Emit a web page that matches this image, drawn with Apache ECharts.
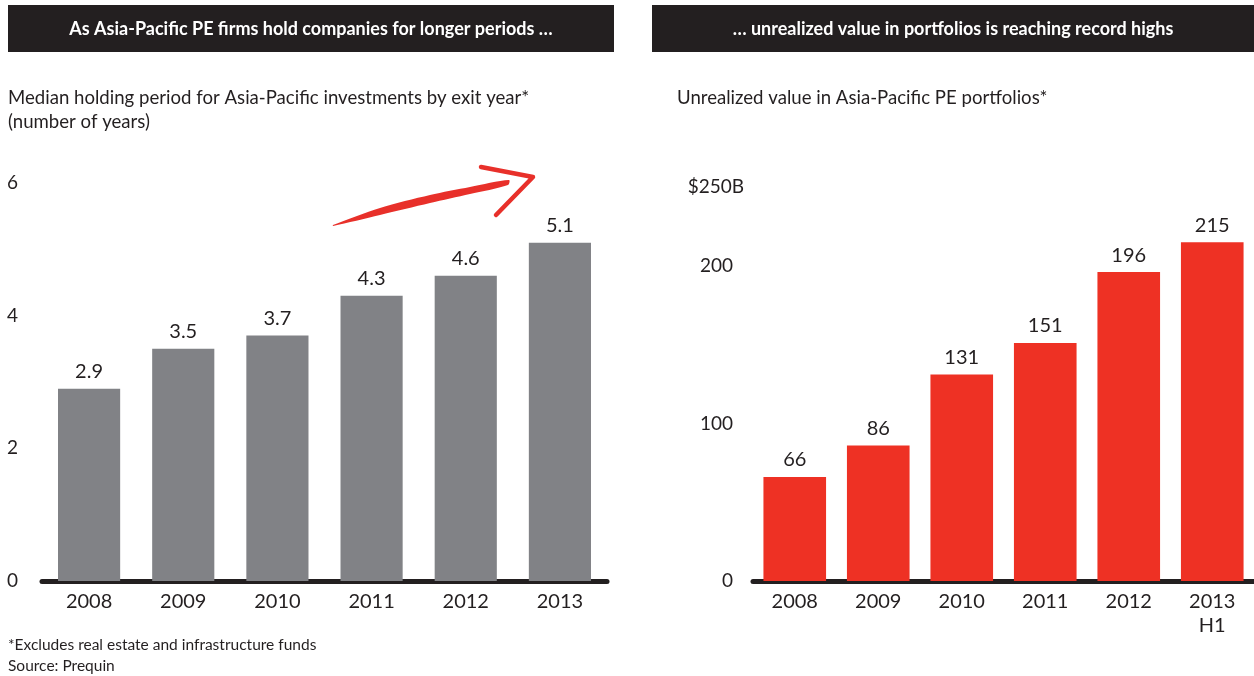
<!DOCTYPE html>
<html>
<head>
<meta charset="utf-8">
<script src="https://cdn.jsdelivr.net/npm/echarts@6/dist/echarts.min.js"></script>
<style>
  html, body { margin: 0; padding: 0; background: #fff; }
  #chart { width: 1254px; height: 676px; }
</style>
</head>
<body>
<div id="chart"></div>
<script>
// 数据
const holdYears = ['2008', '2009', '2010', '2011', '2012', '2013']
const holdValues = [2.9, 3.5, 3.7, 4.3, 4.6, 5.1]
const holdTicks = [0, 2, 4, 6]

const valueYears = ['2008', '2009', '2010', '2011', '2012', '2013\nH1']
const unrealizedValues = [66, 86, 131, 151, 196, 215]
const valueTicks = [0, 100, 200, 250]

const leftHeader = 'As Asia-Pacific PE firms hold companies for longer periods …'
const rightHeader = '… unrealized value in portfolios is reaching record highs'
const leftSubtitle = 'Median holding period for Asia-Pacific investments by exit year*\n(number of years)'
const rightSubtitle = 'Unrealized value in Asia-Pacific PE portfolios*'
const footnotes = '*Excludes real estate and infrastructure funds\nSource: Prequin'

const FONT = 'Lato'
const TEXT = '#231f20'
const ARROW = '#e8302a'

const chart = echarts.init(document.getElementById('chart'), null, { renderer: 'canvas' })

const catAxis = (gridIndex, data) => ({
    type: 'category',
    gridIndex,
    data,
    axisTick: { show: false },
    axisLine: { lineStyle: { color: '#231f20', width: 5 } },
    axisLabel: { color: TEXT, fontFamily: FONT, fontSize: 20, margin: 9, lineHeight: 24 }
})

const textTitle = (text, left, top, size, extra = {}) => ({
    text, left, top, padding: 0,
    textStyle: Object.assign({ color: TEXT, fontFamily: FONT, fontWeight: 'normal', fontSize: size }, extra)
})

const option = {
    animation: false,
    backgroundColor: '#fff',
    title: [
        textTitle(leftHeader, 311, 20, 18, { color: '#fff', fontWeight: 'bold' }),
        textTitle(rightHeader, 953, 20, 18, { color: '#fff', fontWeight: 'bold' }),
        textTitle(leftSubtitle, 8, 86, 18.6, { lineHeight: 24 }),
        textTitle(rightSubtitle, 677, 86, 18.6, { lineHeight: 24 }),
        textTitle(footnotes, 8, 634, 15.5, { lineHeight: 21 })
    ].map((t, i) => (i < 2 ? Object.assign(t, { textAlign: 'center' }) : t)),
    graphic: [
        { type: 'rect', shape: { x: 8, y: 5, width: 606, height: 47 }, style: { fill: '#231f20' }, z: -1 },
        { type: 'rect', shape: { x: 652, y: 5, width: 602, height: 47 }, style: { fill: '#231f20' }, z: -1 },
        // 手绘箭头
        { type: 'polygon', shape: {
            smooth: 0.3,
            points: [[333, 225], [380, 208], [430, 195], [470, 187], [509, 180],
                     [508, 185], [470, 194], [430, 203], [380, 215], [333, 226]]
          },
          style: { fill: ARROW } },
        { type: 'polyline', shape: { points: [[481, 167], [533, 177], [496, 215]] },
          style: { stroke: ARROW, lineWidth: 4.5, fill: null, lineJoin: 'round', lineCap: 'round' } }
    ],
    grid: [
        { left: 42, top: 183, width: 565, height: 398 },
        { left: 753, top: 187, width: 502, height: 394 }
    ],
    xAxis: [catAxis(0, holdYears), catAxis(1, valueYears)],
    yAxis: [
        {
            type: 'value', gridIndex: 0, min: 0, max: 6, interval: 2,
            splitLine: { show: false }, axisLine: { show: false }, axisTick: { show: false },
            axisLabel: {
                color: TEXT, fontFamily: FONT, fontSize: 19, margin: 24,
                formatter: v => holdTicks.includes(v) ? String(v) : ''
            }
        },
        {
            type: 'value', gridIndex: 1, min: 0, max: 250, interval: 50,
            splitLine: { show: false }, axisLine: { show: false }, axisTick: { show: false },
            axisLabel: {
                color: TEXT, fontFamily: FONT, fontSize: 19, margin: 20,
                formatter: v => valueTicks.includes(v) ? (v === 250 ? '{top|$250B}' : String(v)) : '',
                rich: { top: { fontFamily: FONT, fontSize: 19, color: TEXT, padding: [0, -11, 0, 0] } }
            }
        }
    ],
    series: [
        {
            type: 'bar', xAxisIndex: 0, yAxisIndex: 0, data: holdValues,
            barWidth: '66%', itemStyle: { color: '#818286' },
            label: { show: true, position: 'top', distance: 7, color: TEXT, fontFamily: FONT, fontSize: 20 }
        },
        {
            type: 'bar', xAxisIndex: 1, yAxisIndex: 1, data: unrealizedValues,
            barWidth: '75%', itemStyle: { color: '#ee3124' },
            label: { show: true, position: 'top', distance: 7, color: TEXT, fontFamily: FONT, fontSize: 20 }
        }
    ]
}

chart.setOption(option)
</script>
</body>
</html>
